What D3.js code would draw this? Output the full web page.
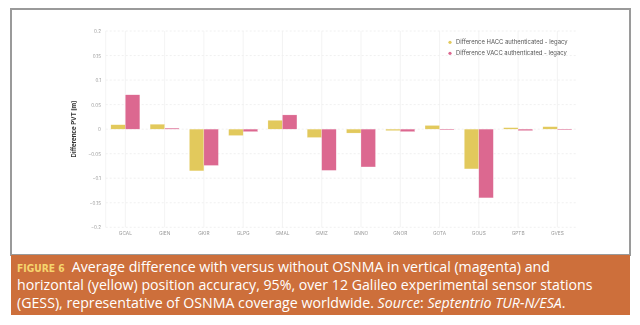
<!DOCTYPE html>
<html>
<head>
<meta charset="utf-8">
<script src="https://cdn.jsdelivr.net/npm/d3@7"></script>
<style>
  html, body { margin: 0; padding: 0; background: #fff; }
  svg { display: block; }
</style>
</head>
<body>
<svg id="fig" width="640" height="325"></svg>
<script>
// Galileo experimental sensor stations
const stations = ["GCAL", "GIEN", "GKIR", "GLPG", "GMAL", "GMIZ", "GNNO", "GNOR", "GOTA", "GOUS", "GPTB", "GVES"];
// Difference HACC authenticated - legacy [m]
const hacc = [0.009, 0.010, -0.085, -0.013, 0.018, -0.017, -0.008, -0.003, 0.0075, -0.081, 0.003, 0.005];
// Difference VACC authenticated - legacy [m]
const vacc = [0.070, 0.002, -0.074, -0.005, 0.029, -0.084, -0.077, -0.005, -0.001, -0.140, -0.003, -0.001];
const seriesNames = ["Difference HACC authenticated - legacy", "Difference VACC authenticated - legacy"];
const seriesColors = ["#e2c95c", "#dc6890"];
const yTicks = [0.2, 0.15, 0.1, 0.05, 0, -0.05, -0.1, -0.15, -0.2];

const svg = d3.select("#fig");

// figure frame
svg.append("rect").attr("x", 11).attr("y", 9).attr("width", 619).attr("height", 246)
  .attr("fill", "#fff").attr("stroke", "#9a9a9a").attr("stroke-width", 2);

svg.append("defs").append("filter").attr("id", "soft")
  .append("feGaussianBlur").attr("stdDeviation", 0.35);
const chart = svg.append("g").attr("filter", "url(#soft)");

const x = d3.scaleBand().domain(stations).range([105.7, 577]).paddingInner(0).paddingOuter(0);
const xs = d3.scaleBand().domain([0, 1]).range([0, x.bandwidth()]).paddingInner(0).paddingOuter(0.355);
const y = d3.scaleLinear().domain([-0.2, 0.2]).range([227.3, 31]);

// horizontal grid
chart.append("g").selectAll("line").data(yTicks).join("line")
  .attr("x1", 105.7).attr("x2", 577)
  .attr("y1", d => y(d)).attr("y2", d => y(d))
  .attr("stroke", "#ececec").attr("stroke-width", 0.8).attr("stroke-dasharray", "2,2");
// vertical grid at category centres
chart.append("g").selectAll("line").data(stations).join("line")
  .attr("x1", d => x(d) + x.bandwidth() / 2).attr("x2", d => x(d) + x.bandwidth() / 2)
  .attr("y1", 31).attr("y2", 227.3)
  .attr("stroke", "#f0f0f0").attr("stroke-width", 0.8);
chart.append("line").attr("x1", 105.7).attr("x2", 105.7).attr("y1", 31).attr("y2", 227.3)
  .attr("stroke", "#f0f0f0").attr("stroke-width", 0.8);

// y axis
const yAxis = d3.axisLeft(y).tickValues(yTicks).tickSize(0).tickPadding(0).tickFormat(d => d3.format("")(+d.toFixed(2)));
const ya = chart.append("g").attr("transform", "translate(101,0)").call(yAxis);
ya.select(".domain").remove();
ya.selectAll("text").attr("fill", "#9a9a9a").attr("font-family", "Inter, sans-serif").attr("font-size", 4.6);

// x axis
const xAxis = d3.axisBottom(x).tickSize(0).tickPadding(0);
const xa = chart.append("g").attr("transform", "translate(0,232)").call(xAxis);
xa.select(".domain").remove();
xa.selectAll("text").attr("fill", "#9a9a9a").attr("font-family", "Inter, sans-serif").attr("font-size", 4.8);

// y axis title
chart.append("text").attr("transform", "translate(76,129) rotate(-90)")
  .attr("text-anchor", "middle").attr("font-family", "Inter, sans-serif")
  .attr("font-size", 6.1).attr("font-weight", 700).attr("fill", "#333")
  .text("Difference PVT [m]");

// bars
const rows = stations.map((s, i) => ({ s, v: [hacc[i], vacc[i]] }));
const grp = chart.append("g").selectAll("g").data(rows).join("g")
  .attr("transform", d => `translate(${x(d.s)},0)`);
grp.selectAll("rect").data(d => d.v.map((v, k) => ({ v, k }))).join("rect")
  .attr("x", d => xs(d.k)).attr("width", xs.bandwidth())
  .attr("y", d => y(Math.max(0, d.v)))
  .attr("height", d => Math.max(0.8, Math.abs(y(d.v) - y(0))))
  .attr("fill", d => seriesColors[d.k])
  .attr("stroke", "#fff").attr("stroke-opacity", 0.5).attr("stroke-width", 0.4);

// legend
const lg = chart.append("g").selectAll("g").data(seriesNames).join("g")
  .attr("transform", (d, i) => `translate(450,${42.3 + i * 11})`);
lg.append("circle").attr("r", 1.6).attr("fill", (d, i) => seriesColors[i]);
lg.append("text").attr("x", 6).attr("dy", "0.35em").attr("font-family", "Inter, sans-serif")
  .attr("font-size", 5.9).attr("fill", "#555").text(d => d);

// caption box
svg.append("rect").attr("x", 11).attr("y", 255).attr("width", 619).attr("height", 60).attr("fill", "#cd6f3b");

const capFont = "'Open Sans', sans-serif";
const cap = svg.append("g").attr("font-family", capFont).attr("fill", "#fff");
const l1 = cap.append("text").attr("x", 17).attr("y", 272);
l1.append("tspan").attr("fill", "#f6d56e").attr("font-weight", 700).attr("font-size", "0.72em")
  .attr("font-family", "'DejaVu Sans Condensed', 'Liberation Sans Narrow', sans-serif").text("FIGURE 6");
l1.append("tspan").text("\u2002Average difference with versus without OSNMA in vertical (magenta) and");
const l2 = cap.append("text").attr("x", 17).attr("y", 290)
  .text("horizontal (yellow) position accuracy, 95%, over 12 Galileo experimental sensor stations");
const l3 = cap.append("text").attr("x", 17).attr("y", 308);
l3.append("tspan").text("(GESS), representative of OSNMA coverage worldwide. ");
l3.append("tspan").attr("font-style", "italic").text("Source");
l3.append("tspan").text(": ");
l3.append("tspan").attr("font-style", "italic").text("Septentrio TUR-N/ESA");
l3.append("tspan").text(".");

// size the caption so the second line ends near the right of the box
cap.attr("font-size", 16);
const w = l2.node().getComputedTextLength();
cap.attr("font-size", 16 * 576 / w);
</script>
</body>
</html>
